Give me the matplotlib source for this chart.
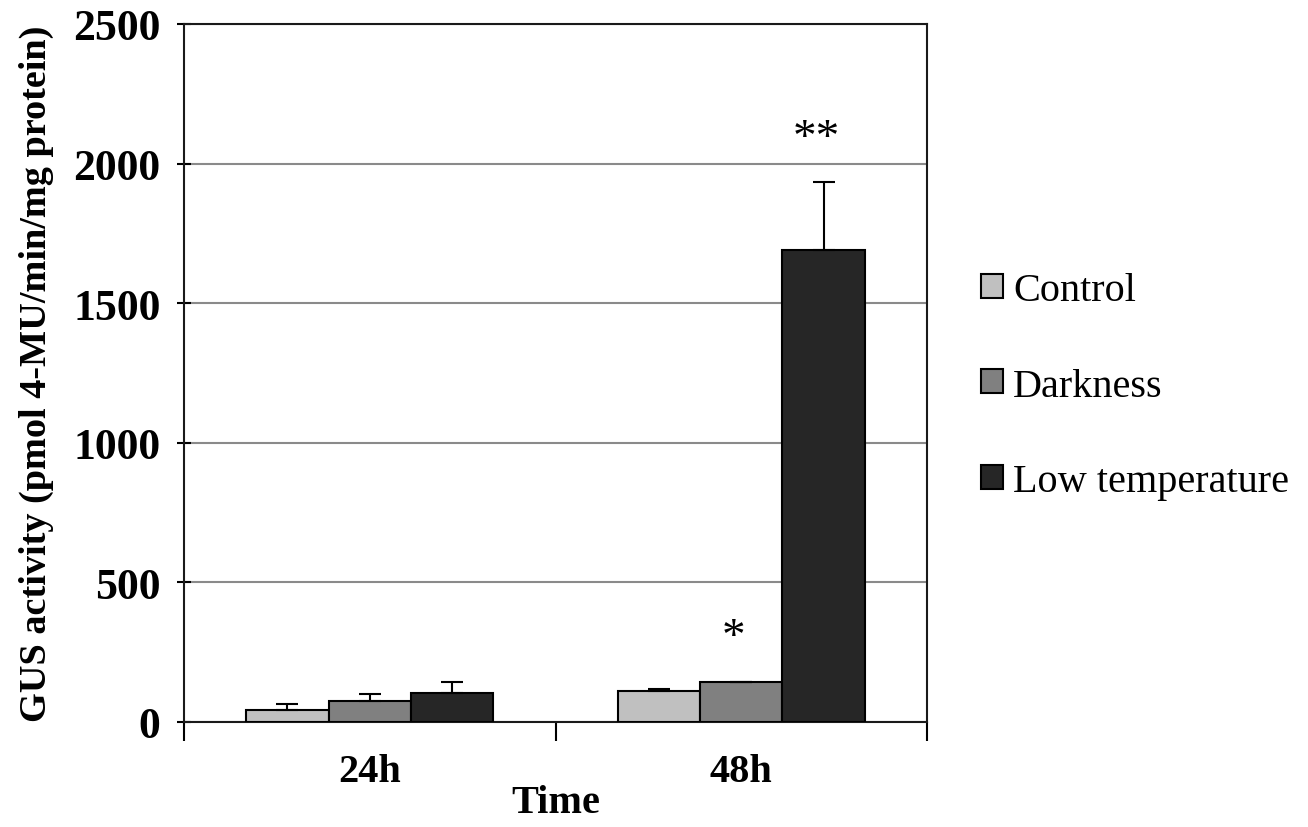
import matplotlib
matplotlib.use("Agg")
import matplotlib.pyplot as plt
import numpy as np
from matplotlib.patches import Patch

times = ["24h", "48h"]
series = ["Control", "Darkness", "Low temperature"]
values = {
    "Control": [44, 112],
    "Darkness": [74, 142],
    "Low temperature": [105, 1691],
}
errors = {
    "Control": [19, 6],
    "Darkness": [26, 3],
    "Low temperature": [37, 242],
}
signif = {
    "Darkness": ["", "*"],
    "Low temperature": ["", "**"],
}
colors = {"Control": "#c0c0c0", "Darkness": "#808080", "Low temperature": "#262626"}

plt.rcParams['font.family'] = ['Liberation Serif', 'DejaVu Serif']

fig = plt.figure(figsize=(13.08, 8.28), dpi=100)
ax = fig.add_axes([184/1308, 1-723/828, (927-184)/1308, (723-25)/828])

x = np.arange(len(times))
w = 0.222
for i, s in enumerate(series):
    pos = x + (i - 1) * w
    ax.bar(pos, values[s], width=w, color=colors[s], edgecolor='black', linewidth=1.5, zorder=3)
    ax.errorbar(pos, values[s], yerr=[np.zeros(len(times)), errors[s]], fmt='none',
                ecolor='black', elinewidth=1.5, capsize=8, capthick=1.5, zorder=4)
    if s in signif:
        for j, lab in enumerate(signif[s]):
            if lab:
                ax.text(pos[j] - 0.02, values[s][j] + errors[s][j] + 80, lab,
                        ha='center', va='bottom', fontsize=34, zorder=5)

ax.set_xlim(-0.5, 1.5)
ax.set_ylim(0, 2500)
ax.set_yticks(np.arange(0, 2501, 500))
ax.yaxis.grid(True, color='#8a8a8a', linewidth=1.5, zorder=0)
ax.set_axisbelow(True)

ax.set_xticks(x)
ax.set_xticklabels(times, fontsize=29, fontweight='bold')
ax.set_xticks([-0.5, 0.5, 1.5], minor=True)
ax.tick_params(axis='x', which='major', length=0, pad=22)
ax.tick_params(axis='x', which='minor', length=14, width=1.5, direction='out')
ax.tick_params(axis='y', which='major', length=10, width=1.5, direction='inout', labelsize=31.5, pad=12)
for lab in ax.get_yticklabels():
    lab.set_fontweight('bold')

for sp in ax.spines.values():
    sp.set_linewidth(1.5)
    sp.set_color('#1a1a1a')

ax.set_ylabel("GUS activity (pmol 4-MU/min/mg protein)", fontsize=27.5, fontweight='bold', labelpad=14)
ax.set_xlabel("Time", fontsize=29, fontweight='bold', labelpad=-4)

handles = [Patch(facecolor=colors[s], edgecolor='black', linewidth=1.5) for s in series]
fig.legend(handles, series, loc='center left', bbox_to_anchor=(965/1308, 1-387/828),
           frameon=False, fontsize=29, handlelength=0.55, handleheight=0.55,
           handletextpad=0.25, labelspacing=1.45, borderaxespad=0)

fig.savefig("out.png", dpi=100)
